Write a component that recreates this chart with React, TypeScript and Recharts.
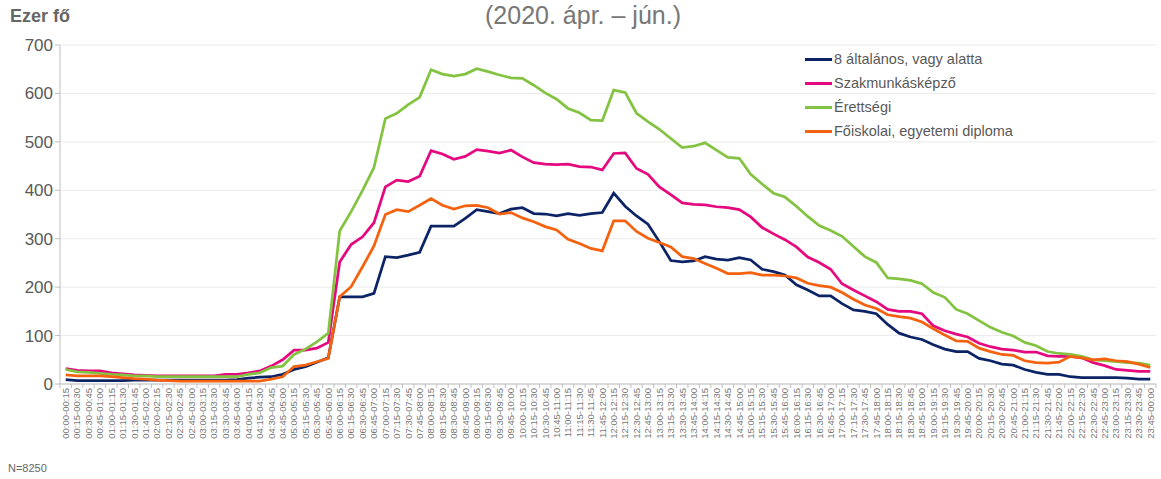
import React from 'react';
import { LineChart, Line, XAxis, YAxis, CartesianGrid } from 'recharts';

const timeSlots = [
  '00:00-00:15', '00:15-00:30', '00:30-00:45', '00:45-01:00', '01:00-01:15', '01:15-01:30', '01:30-01:45', '01:45-02:00',
  '02:00-02:15', '02:15-02:30', '02:30-02:45', '02:45-03:00', '03:00-03:15', '03:15-03:30', '03:30-03:45', '03:45-04:00',
  '04:00-04:15', '04:15-04:30', '04:30-04:45', '04:45-05:00', '05:00-05:15', '05:15-05:30', '05:30-05:45', '05:45-06:00',
  '06:00-06:15', '06:15-06:30', '06:30-06:45', '06:45-07:00', '07:00-07:15', '07:15-07:30', '07:30-07:45', '07:45-08:00',
  '08:00-08:15', '08:15-08:30', '08:30-08:45', '08:45-09:00', '09:00-09:15', '09:15-09:30', '09:30-09:45', '09:45-10:00',
  '10:00-10:15', '10:15-10:30', '10:30-10:45', '10:45-11:00', '11:00-11:15', '11:15-11:30', '11:30-11:45', '11:45-12:00',
  '12:00-12:15', '12:15-12:30', '12:30-12:45', '12:45-13:00', '13:00-13:15', '13:15-13:30', '13:30-13:45', '13:45-14:00',
  '14:00-14:15', '14:15-14:30', '14:30-14:45', '14:45-15:00', '15:00-15:15', '15:15-15:30', '15:30-15:45', '15:45-16:00',
  '16:00-16:15', '16:15-16:30', '16:30-16:45', '16:45-17:00', '17:00-17:15', '17:15-17:30', '17:30-17:45', '17:45-18:00',
  '18:00-18:15', '18:15-18:30', '18:30-18:45', '18:45-19:00', '19:00-19:15', '19:15-19:30', '19:30-19:45', '19:45-20:00',
  '20:00-20:15', '20:15-20:30', '20:30-20:45', '20:45-21:00', '21:00-21:15', '21:15-21:30', '21:30-21:45', '21:45-22:00',
  '22:00-22:15', '22:15-22:30', '22:30-22:45', '22:45-23:00', '23:00-23:15', '23:15-23:30', '23:30-23:45', '23:45-00:00',
];

// ezer fő, 15 perces bontás
const altalanos = [
  9, 7, 7, 7, 7, 7, 8, 8, 8, 8, 8, 8, 8, 8, 8, 9, 12, 14, 15, 20, 30, 36, 45, 54,
  180, 180, 180, 187, 263, 261, 266, 272,
  326, 326, 326, 342, 360, 356, 352, 361, 364, 352, 351, 347, 352, 348, 352, 354,
  394, 367, 347, 330, 294, 255, 252, 254, 263, 258, 256, 261, 256, 237, 232, 225,
  205, 194, 182, 182, 166, 153, 150, 145, 123, 105, 97, 92, 81, 72, 67, 67,
  53, 48, 41, 39, 30, 24, 20, 20, 15, 13, 13, 13, 13, 12, 10, 10,
];
const szakmunkas = [
  32, 28, 27, 27, 23, 21, 19, 18, 17, 17, 17, 17, 17, 17, 20, 20, 23, 27, 37, 50, 70, 70, 74, 86,
  252, 288, 304, 333, 407, 421, 418, 429,
  482, 475, 464, 470, 484, 481, 477, 483, 469, 457, 454, 453, 454, 449, 448, 442,
  476, 477, 445, 433, 407, 391, 374, 371, 370, 366, 364, 360, 345, 323, 310, 298,
  283, 262, 251, 237, 207, 194, 182, 170, 154, 150, 150, 145, 120, 110, 103, 97,
  84, 77, 72, 70, 66, 66, 58, 57, 57, 54, 44, 38, 30, 28, 26, 26,
];
const erettsegi = [
  30, 25, 24, 22, 20, 19, 17, 17, 15, 15, 15, 15, 15, 15, 15, 15, 20, 23, 34, 37, 61, 72, 87, 105,
  316, 356, 400, 447, 548, 559, 577, 592,
  649, 640, 636, 640, 651, 645, 638, 632, 631, 617, 601, 588, 569, 560, 545, 544,
  607, 602, 559, 542, 526, 507, 488, 491, 498, 483, 468, 466, 433, 413, 394, 386,
  367, 346, 327, 317, 305, 284, 263, 251, 219, 217, 214, 207, 189, 179, 154, 145,
  131, 117, 107, 99, 86, 79, 67, 63, 61, 57, 50, 48, 46, 44, 43, 39,
];
const diploma = [
  19, 17, 17, 17, 15, 13, 11, 10, 8, 7, 6, 6, 6, 6, 6, 6, 6, 6, 10, 15, 36, 39, 46, 53,
  180, 201, 242, 285, 350, 360, 356, 369,
  383, 369, 361, 368, 369, 364, 351, 354, 343, 335, 325, 318, 299, 290, 280, 275,
  337, 337, 315, 301, 292, 283, 263, 259, 249, 239, 228, 228, 230, 225, 225, 223,
  219, 208, 203, 200, 189, 175, 163, 156, 143, 139, 136, 128, 114, 101, 89, 88,
  74, 67, 61, 59, 48, 44, 43, 45, 57, 54, 50, 52, 48, 46, 41, 34,
];

const yTicks = [0, 100, 200, 300, 400, 500, 600, 700];

const series = [
  { key: 'altalanos', name: '8 általános, vagy alatta', color: '#0c2466', values: altalanos },
  { key: 'szakmunkas', name: 'Szakmunkásképző', color: '#e5097f', values: szakmunkas },
  { key: 'erettsegi', name: 'Érettségi', color: '#84c341', values: erettsegi },
  { key: 'diploma', name: 'Főiskolai, egyetemi diploma', color: '#f5620f', values: diploma },
];

const data = timeSlots.map((slot, i) => {
  const row: Record<string, string | number> = { slot };
  series.forEach(s => { row[s.key] = s.values[i]; });
  return row;
});

const W = 1161;
const H = 479;
const margin = { top: 45, right: 5, bottom: 20, left: 10 };
const yAxisW = 50;
const plotW = W - margin.left - margin.right - yAxisW;
const band = plotW / timeSlots.length;
const font = '"Liberation Sans", Arial, sans-serif';
const gray = '#595959';

const SlotTick = (props: any) => {
  const { x, y, payload, index } = props;
  return (
    <g>
      <line x1={x - band / 2} y1={y - 8} x2={x - band / 2} y2={y - 4} stroke="#bfbfbf" />
      {index === timeSlots.length - 1 && (
        <line x1={x + band / 2} y1={y - 8} x2={x + band / 2} y2={y - 4} stroke="#bfbfbf" />
      )}
      <text
        x={x}
        y={y - 4}
        dy="0.35em"
        transform={`rotate(-90, ${x}, ${y - 4})`}
        textAnchor="end"
        fontSize={9.5}
        fill="#777"
        fontFamily={font}
      >
        {payload.value}
      </text>
    </g>
  );
};

export default function App() {
  return (
    <div style={{ position: 'absolute', left: 0, top: 0, width: W, height: H, background: '#fff', fontFamily: font }}>
      <LineChart width={W} height={H} data={data} margin={margin}>
        <CartesianGrid horizontal vertical={false} stroke="#ebebeb" />
        <XAxis
          dataKey="slot"
          interval={0}
          height={75}
          padding={{ left: band / 2, right: band / 2 }}
          axisLine={{ stroke: '#bfbfbf' }}
          tickLine={false}
          tick={<SlotTick />}
        />
        <YAxis
          width={yAxisW}
          domain={[0, 700]}
          ticks={yTicks}
          interval={0}
          axisLine={{ stroke: '#bfbfbf' }}
          tickLine={{ stroke: '#bfbfbf' }}
          tickSize={5}
          tick={{ fontSize: 17, fill: gray, fontFamily: font }}
        />
        {series.map(s => (
          <Line
            key={s.key}
            type="linear"
            dataKey={s.key}
            name={s.name}
            stroke={s.color}
            strokeWidth={2.75}
            dot={false}
            activeDot={false}
            isAnimationActive={false}
          />
        ))}
      </LineChart>
      <div style={{ position: 'absolute', left: 10, top: 6, fontSize: 18, fontWeight: 'bold', color: '#666' }}>Ezer fő</div>
      <div style={{ position: 'absolute', left: 0, width: 1166, top: 1, textAlign: 'center', fontSize: 25, color: '#777' }}>
        (2020. ápr. – jún.)
      </div>
      <div style={{ position: 'absolute', left: 805, top: 47, fontSize: 14.5, color: gray }}>
        {series.map(s => (
          <div key={s.key} style={{ display: 'flex', alignItems: 'center', height: 24 }}>
            <span style={{ display: 'inline-block', width: 27, height: 3, background: s.color, marginRight: 2 }} />
            <span>{s.name}</span>
          </div>
        ))}
      </div>
      <div style={{ position: 'absolute', left: 8, top: 462, fontSize: 11, color: '#666' }}>N=8250</div>
    </div>
  );
}
